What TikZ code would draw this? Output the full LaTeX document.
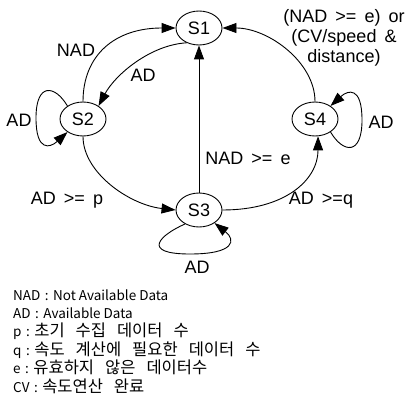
\documentclass[tikz,border=0pt]{standalone}
\usepackage{fontspec}
\setmainfont{Liberation Sans}
\newfontfamily\lblfont[WordSpace=1.6]{Liberation Sans}
\newfontfamily\krfont{Noto Sans CJK KR}
\usetikzlibrary{arrows.meta,shapes.geometric}
\newcommand\lblsize{\lblfont\fontsize{18}{20}\selectfont}
\newcommand\kr[1]{{\krfont\fontsize{16.5}{16.5}\selectfont #1}}
% gaps used in the legend: between Korean words, and around the colon
\newcommand\ksp{\hspace{11pt}}
\newcommand\csp{\hspace{4.5pt}}
\frenchspacing
\begin{document}
\begin{tikzpicture}[x=1pt,y=-1pt,
  state/.style={draw,ellipse,line width=0.9pt,minimum width=46pt,minimum height=34pt,
    inner sep=0pt,font=\fontsize{18}{20}\selectfont},
  trans/.style={line width=0.9pt,-{Triangle[length=14pt,width=10pt]}},
  lbl/.style={inner sep=0pt,font=\lblsize},
  legend/.style={anchor=base west,inner sep=0pt,font=\krfont\fontsize{13.5}{16}\selectfont}]
\useasboundingbox (0,0) rectangle (412,417);

% states
\node[state] (s1) at (199,28)  {S1};
\node[state] (s2) at (83,119)  {S2};
\node[state] (s3) at (199,210) {S3};
\node[state] (s4) at (315,119) {S4};

% transitions
\draw[trans] (s2.north) .. controls (83,55) and (115,28) .. (s1.west);
\draw[trans] (s1.230) .. controls (150,45) and (115,75) .. (s2.40);
\draw[trans] (s2.140) .. controls (55,85) and (36,82) .. (36,118)
                      .. controls (36,152) and (50,148) .. (s2.220);
\draw[trans] (s2.south) .. controls (83,173) and (130,205) .. (s3.west);
\draw[trans] (s3.north) -- (s1.south);
\draw[trans] (s3.east) .. controls (285,210) and (318,180) .. (s4.-80);
\draw[trans] (s4.north) .. controls (315,62) and (268,28) .. (s1.east);
\draw[trans] (s4.-40) .. controls (343,153) and (362,156) .. (362,120)
                      .. controls (362,86) and (348,90) .. (s4.40);
\draw[trans] (s3.225) .. controls (160,235) and (140,254) .. (190,254)
                      .. controls (235,254) and (236,240) .. (s3.-40);

% transition labels
\node[lbl] (lnad)  at (76,50)   {NAD};
\node[lbl] (lad1)  at (143,75)  {AD};
\node[lbl] (lad2)  at (19,120)  {AD};
\node[lbl] (ladp)  at (67,200)  {AD >= p};
\node[lbl] (lnade) at (248,158) {NAD >= e};
\node[lbl] (ladq)  at (321,200) {AD >=q};
\node[lbl] (lad3)  at (197,267) {AD};
\node[lbl] (lad4)  at (381,122) {AD};
\node[lbl,align=center] (lcond) at (344,38) {(NAD >= e) or\\(CV/speed \&\\distance)};

% legend
\node[legend] (g1) at (13,300)   {NAD\csp:\csp Not Available Data};
\node[legend] (g2) at (13,318.4) {AD\csp:\csp Available Data};
\node[legend] (g3) at (13,336.8) {p\csp:\csp\kr{초기\ksp 수집\ksp 데이터\ksp 수}};
\node[legend] (g4) at (13,355.2) {q\csp:\csp\kr{속도\ksp 계산에\ksp 필요한\ksp 데이터\ksp 수}};
\node[legend] (g5) at (13,373.6) {e\csp:\csp\kr{유효하지\ksp 않은\ksp 데이터수}};
\node[legend] (g6) at (13,392)   {CV\csp:\csp\kr{속도연산\ksp 완료}};
\end{tikzpicture}
\end{document}
